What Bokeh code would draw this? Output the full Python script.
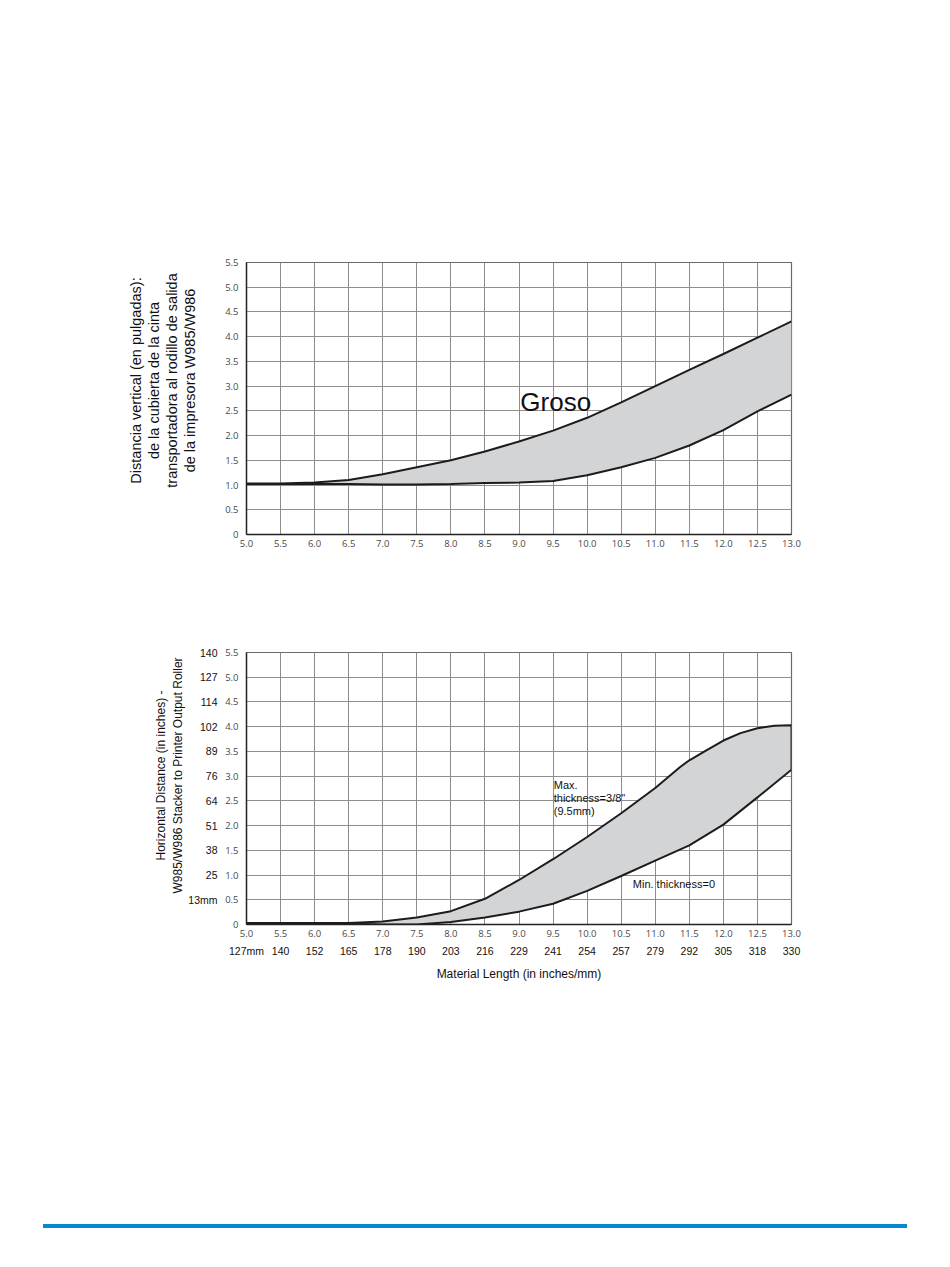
from bokeh.plotting import figure
from bokeh.models import Range1d, FixedTicker, LinearAxis, Title, Div
from bokeh.layouts import column
from bokeh.embed import file_html
from bokeh.resources import INLINE
from bokeh.core.properties import value

# ---------------- data ----------------
x_ticks = [5.0, 5.5, 6.0, 6.5, 7.0, 7.5, 8.0, 8.5, 9.0, 9.5, 10.0, 10.5, 11.0, 11.5, 12.0, 12.5, 13.0]
x_tick_labels = ["5.0", "5.5", "6.0", "6.5", "7.0", "7.5", "8.0", "8.5", "9.0", "9.5", "10.0",
                 "10.5", "11.0", "11.5", "12.0", "12.5", "13.0"]
x_mm_labels = ["127mm", "140", "152", "165", "178", "190", "203", "216", "229", "241", "254",
               "257", "279", "292", "305", "318", "330"]
y_ticks = [0.0, 0.5, 1.0, 1.5, 2.0, 2.5, 3.0, 3.5, 4.0, 4.5, 5.0, 5.5]
y_tick_labels = ["0", "0.5", "1.0", "1.5", "2.0", "2.5", "3.0", "3.5", "4.0", "4.5", "5.0", "5.5"]
y_mm_ticks = [0.5, 1.0, 1.5, 2.0, 2.5, 3.0, 3.5, 4.0, 4.5, 5.0, 5.5]
y_mm_labels = ["13mm", "25", "38", "51", "64", "76", "89", "102", "114", "127", "140"]

# top chart (Groso)
top_x = [5.0, 5.5, 6.0, 6.5, 7.0, 7.5, 8.0, 8.5, 9.0, 9.5, 10.0, 10.5, 11.0, 11.5, 12.0, 12.5, 13.0]
top_upper = [1.03, 1.03, 1.05, 1.10, 1.22, 1.36, 1.50, 1.68, 1.88, 2.10, 2.36, 2.67, 3.00, 3.33, 3.65, 3.98, 4.31]
top_lower = [1.02, 1.02, 1.02, 1.02, 1.01, 1.01, 1.02, 1.04, 1.05, 1.08, 1.20, 1.36, 1.55, 1.80, 2.11, 2.49, 2.83]

# bottom chart
max_x = [5.0, 5.5, 6.0, 6.5, 7.0, 7.5, 8.0, 8.5, 9.0, 9.5, 10.0, 10.5, 11.0, 11.37, 11.5, 11.75,
         12.0, 12.25, 12.5, 12.75, 13.0]
max_y = [0.03, 0.03, 0.03, 0.03, 0.06, 0.14, 0.27, 0.52, 0.90, 1.32, 1.77, 2.25, 2.76, 3.19, 3.32, 3.52,
         3.72, 3.87, 3.97, 4.02, 4.03]
min_x = [5.0, 5.5, 6.0, 6.5, 7.0, 7.5, 8.0, 8.5, 9.0, 9.5, 10.0, 10.5, 11.0, 11.5, 12.0, 12.5, 13.0]
min_y = [0.03, 0.03, 0.03, 0.02, 0.0, 0.0, 0.05, 0.14, 0.26, 0.42, 0.68, 0.98, 1.29, 1.60, 2.02, 2.57, 3.13]

top_ylabel_lines = ["Distancia vertical (en pulgadas):", "de la cubierta de la cinta",
                    "transportadora al rodillo de salida", "de la impresora W985/W986"]
bot_ylabel_lines = ["Horizontal Distance (in inches) -", "W985/W986 Stacker to Printer Output Roller"]
bot_xlabel = "Material Length (in inches/mm)"

FILL = "#d3d4d6"
CURVE = "#1c1c1c"
GRID = "#8e8e8e"
TICKFONT = "Open Sans"
ARIAL = "Liberation Sans"
W = 940

# Arial / Liberation Sans advance widths (per 1000 em) for centring rotated title lines
AW = {" ": 278, "(": 333, ")": 333, "-": 333, ".": 278, "/": 278, ":": 278, "=": 584, '"': 355,
      "0": 556, "1": 556, "2": 556, "3": 556, "4": 556, "5": 556, "6": 556, "7": 556, "8": 556, "9": 556,
      "D": 722, "H": 722, "O": 778, "P": 667, "R": 722, "S": 667, "W": 944,
      "a": 556, "b": 556, "c": 500, "d": 556, "e": 556, "f": 278, "g": 556, "h": 556, "i": 222,
      "k": 500, "l": 222, "m": 833, "n": 556, "o": 556, "p": 556, "r": 333, "s": 500, "t": 278,
      "u": 556, "v": 500, "z": 500}


def text_w(s, size):
    return sum(AW.get(c, 556) for c in s) / 1000.0 * size


def style(p):
    p.xaxis.ticker = FixedTicker(ticks=x_ticks)
    p.yaxis.ticker = FixedTicker(ticks=y_ticks)
    p.xaxis.major_label_overrides = dict(zip(x_ticks, x_tick_labels))
    p.yaxis.major_label_overrides = dict(zip(y_ticks, y_tick_labels))
    for ax in (p.xaxis[0], p.yaxis[0]):
        ax.major_tick_in = 0
        ax.major_tick_out = 0
        ax.minor_tick_in = 0
        ax.minor_tick_out = 0
        ax.axis_line_color = "#222222"
        ax.axis_line_width = 1.4
        ax.major_label_text_font = TICKFONT
        ax.major_label_text_font_size = "9.5px"
        ax.major_label_text_color = "#4a4a4a"
    p.yaxis.major_label_standoff = 8
    p.xaxis.major_label_standoff = 5
    p.grid.grid_line_color = GRID
    p.grid.grid_line_width = 1
    p.outline_line_color = "#6a6a6a"
    p.outline_line_width = 1.2
    p.background_fill_color = "white"
    p.border_fill_color = "white"


def add_gap(p, px):
    # an invisible axis used only as a gap between the tick labels and the side title
    gap = LinearAxis(ticker=FixedTicker(ticks=[2.75]), axis_line_color=None,
                     major_tick_line_color=None, minor_tick_line_color=None,
                     major_tick_in=0, major_tick_out=px, minor_tick_in=0, minor_tick_out=0,
                     major_label_standoff=0, major_label_text_color=None,
                     major_label_text_font_size="0px")
    p.add_layout(gap, "left")


def add_side_title(p, lines, size, centre_from_bottom, inner_standoff, line_h):
    # innermost line first (closest to the axis), each line centred on the same point
    for i, line in enumerate(reversed(lines)):
        off = centre_from_bottom - text_w(line, size) / 2.0
        t = Title(text=line, align="left", offset=off, standoff=inner_standoff if i == 0 else 0,
                  text_font=ARIAL, text_font_size=f"{size}px", text_font_style="normal",
                  text_color="#111111", text_line_height=line_h)
        p.add_layout(t, "left")


# ---------------- top figure ----------------
p1 = figure(width=W, height=600, x_range=Range1d(5, 13), y_range=Range1d(0, 5.5),
            output_backend="svg", toolbar_location=None,
            min_border_left=246, min_border_right=W - 246 - 545, min_border_top=262,
            min_border_bottom=66)
style(p1)
p1.varea(x=top_x, y1=top_lower, y2=top_upper, fill_color=FILL)
p1.line(top_x, top_upper, line_color=CURVE, line_width=2)
p1.line(top_x, top_lower, line_color=CURVE, line_width=2)
p1.text(x=[9.02], y=[2.67], text=["Groso"], text_font=value(ARIAL), text_font_size="26px",
        text_color="#111111", text_baseline="alphabetic", text_align="left")
add_gap(p1, 24)
add_side_title(p1, top_ylabel_lines, 14.5, 154, 1, 0.93)

# ---------------- bottom figure ----------------
p2 = figure(width=W, height=400, x_range=Range1d(5, 13), y_range=Range1d(0, 5.5),
            output_backend="svg", toolbar_location=None,
            min_border_left=246, min_border_right=W - 246 - 545, min_border_top=52,
            min_border_bottom=76)
style(p2)

mm_y = LinearAxis(ticker=FixedTicker(ticks=y_mm_ticks),
                  major_label_overrides=dict(zip(y_mm_ticks, y_mm_labels)))
mm_x = LinearAxis(ticker=FixedTicker(ticks=x_ticks),
                  major_label_overrides=dict(zip(x_ticks, x_mm_labels)),
                  axis_label=bot_xlabel)
for ax in (mm_y, mm_x):
    ax.axis_line_color = None
    ax.major_tick_in = 0
    ax.major_tick_out = 0
    ax.minor_tick_in = 0
    ax.minor_tick_out = 0
    ax.major_label_text_font = ARIAL
    ax.major_label_text_font_size = "10.5px"
    ax.major_label_text_color = "#111111"
mm_y.major_label_standoff = 5
mm_x.major_label_standoff = 5
mm_x.axis_label_text_font = ARIAL
mm_x.axis_label_text_font_style = "normal"
mm_x.axis_label_text_font_size = "12px"
mm_x.axis_label_text_color = "#111111"
mm_x.axis_label_standoff = 7
p2.add_layout(mm_y, "left")
p2.add_layout(mm_x, "below")

p2.patch(x=max_x + min_x[::-1], y=max_y + min_y[::-1], fill_color=FILL,
         line_color=CURVE, line_width=2)
p2.text(x=[9.51], y=[2.95], text=["Max.\nthickness=3/8\"\n(9.5mm)"], text_font=value(ARIAL),
        text_font_size="11px", text_color="#111111", text_baseline="top", text_align="left",
        text_line_height=1.1)
p2.text(x=[10.67], y=[0.81], text=["Min. thickness=0"], text_font=value(ARIAL),
        text_font_size="11px", text_color="#111111", text_baseline="middle", text_align="left")
add_side_title(p2, bot_ylabel_lines, 12, 149, 2, 1.0)

# ---------------- footer rule ----------------
rule = Div(text="", width=864, height=4, margin=(224, 0, 0, 43),
           styles={"background-color": "#0787d0"})

layout = column(p1, p2, rule, spacing=0)
open("out.html", "w").write(file_html(layout, INLINE))
